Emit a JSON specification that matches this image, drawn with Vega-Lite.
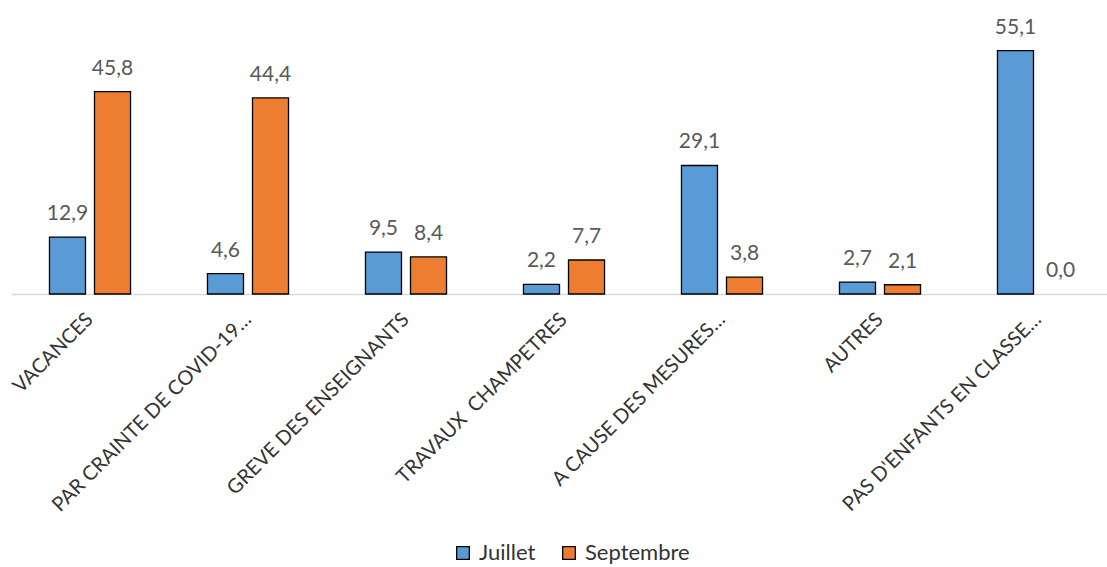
{
  "$schema": "https://vega.github.io/schema/vega-lite/v6.json",
  "width": 1096,
  "height": 265,
  "autosize": {"type": "none"},
  "padding": {"left": 11, "top": 29, "right": 0, "bottom": 273},
  "config": {
    "view": {"stroke": null},
    "font": "Lato",
    "locale": {"number": {"decimal": ",", "thousands": " ", "grouping": [3], "currency": ["", " €"]}}
  },
  "data": {
    "values": [
      {"motif": "VACANCES", "periode": "Juillet", "valeur": 12.9},
      {"motif": "VACANCES", "periode": "Septembre", "valeur": 45.8},
      {"motif": "PAR CRAINTE DE COVID-19…", "periode": "Juillet", "valeur": 4.6},
      {"motif": "PAR CRAINTE DE COVID-19…", "periode": "Septembre", "valeur": 44.4},
      {"motif": "GREVE DES ENSEIGNANTS", "periode": "Juillet", "valeur": 9.5},
      {"motif": "GREVE DES ENSEIGNANTS", "periode": "Septembre", "valeur": 8.4},
      {"motif": "TRAVAUX\u00a0 CHAMPETRES", "periode": "Juillet", "valeur": 2.2},
      {"motif": "TRAVAUX\u00a0 CHAMPETRES", "periode": "Septembre", "valeur": 7.7},
      {"motif": "A CAUSE DES MESURES…", "periode": "Juillet", "valeur": 29.1},
      {"motif": "A CAUSE DES MESURES…", "periode": "Septembre", "valeur": 3.8},
      {"motif": "AUTRES", "periode": "Juillet", "valeur": 2.7},
      {"motif": "AUTRES", "periode": "Septembre", "valeur": 2.1},
      {"motif": "PAS D'ENFANTS EN CLASSE…", "periode": "Juillet", "valeur": 55.1},
      {"motif": "PAS D'ENFANTS EN CLASSE…", "periode": "Septembre", "valeur": 0.0}
    ]
  },
  "encoding": {
    "x": {
      "field": "motif",
      "type": "nominal",
      "sort": null,
      "title": null,
      "scale": {"range": [0, 1106], "paddingInner": 0.487, "paddingOuter": 0.2435},
      "axis": {
        "labelAngle": -45,
        "labelAlign": "right",
        "labelBaseline": "middle",
        "labelFontSize": 20,
        "labelFont": "Lato",
        "labelColor": "#333333",
        "labelPadding": 22,
        "labelLimit": 400,
        "ticks": false,
        "domainColor": "#D9D9D9",
        "domainWidth": 1.5
      }
    },
    "xOffset": {
      "field": "periode",
      "type": "nominal",
      "sort": ["Juillet", "Septembre"],
      "scale": {"paddingInner": 0.2, "paddingOuter": 0}
    },
    "y": {
      "field": "valeur",
      "type": "quantitative",
      "scale": {"domain": [0, 60], "nice": false},
      "axis": null
    }
  },
  "layer": [
    {
      "mark": {"type": "bar", "stroke": "#000000", "strokeWidth": 1.3},
      "encoding": {
        "color": {
          "field": "periode",
          "type": "nominal",
          "scale": {"domain": ["Juillet", "Septembre"], "range": ["#5B9BD5", "#ED7D31"]},
          "legend": {
            "title": null,
            "orient": "none",
            "direction": "horizontal",
            "legendX": 441,
            "legendY": 513,
            "symbolType": "square",
            "symbolSize": 160,
            "symbolStrokeColor": "#000000",
            "symbolStrokeWidth": 1.3,
            "labelFontSize": 22,
            "labelFont": "Lato",
            "labelColor": "#333333",
            "labelOffset": 5,
            "columnPadding": 22
          }
        },
        "strokeOpacity": {"condition": {"test": "datum.valeur == 0", "value": 0}, "value": 1}
      }
    },
    {
      "mark": {"type": "text", "baseline": "alphabetic", "dy": -17, "fontSize": 21, "font": "Lato", "color": "#595959"},
      "encoding": {
        "text": {"field": "valeur", "type": "quantitative", "format": ".1f"}
      }
    }
  ]
}
